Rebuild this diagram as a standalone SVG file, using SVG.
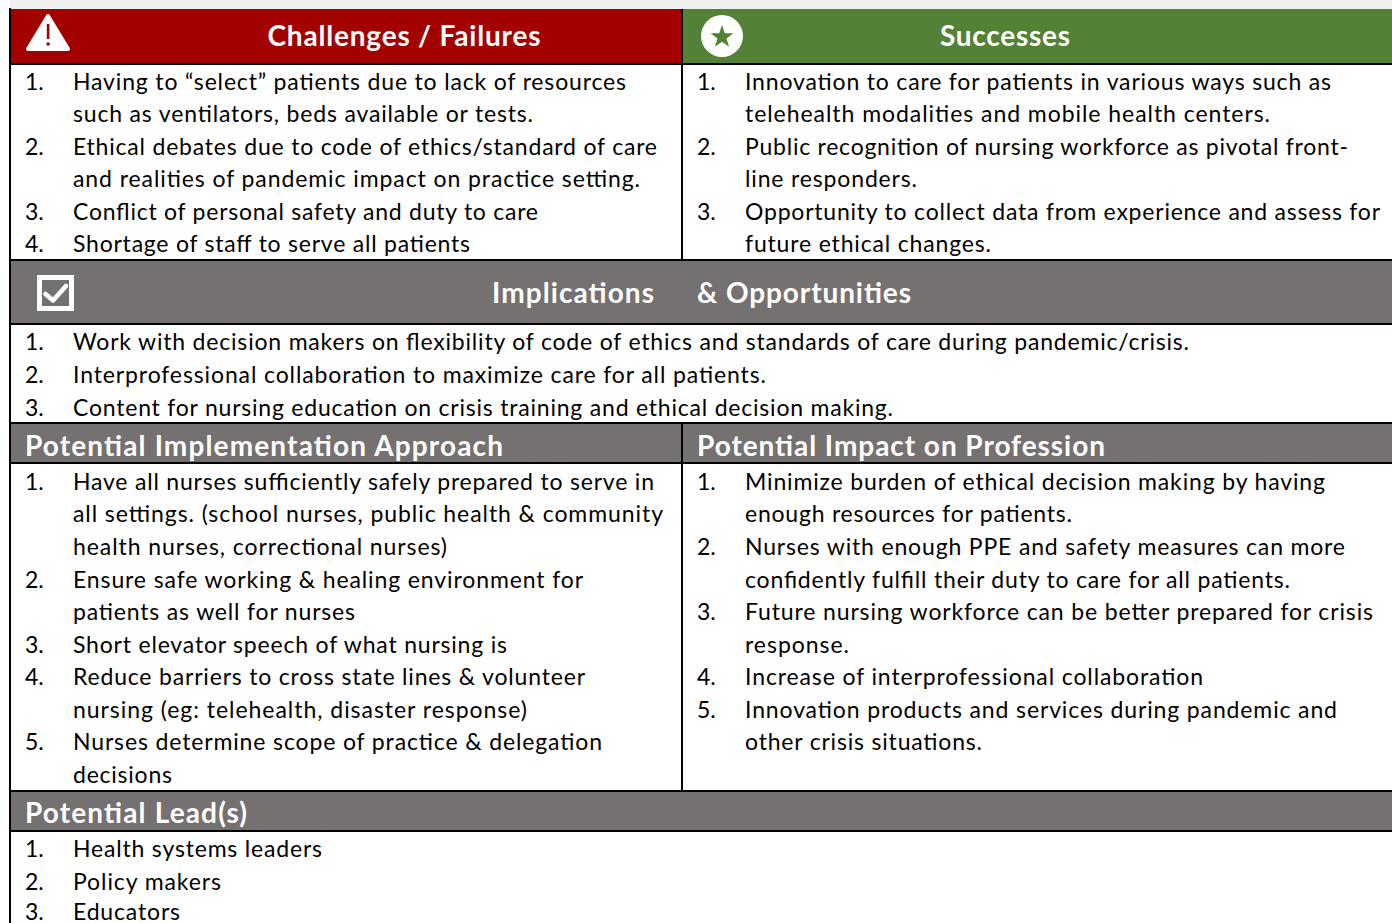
<svg xmlns="http://www.w3.org/2000/svg" width="1392" height="923" viewBox="0 0 1392 923">
<style>
.b{font-family:Lato,"Open Sans","Liberation Sans",sans-serif;font-size:23px;fill:#000}
.h{font-family:Lato,"Open Sans","Liberation Sans",sans-serif;font-size:28px;font-weight:bold;fill:#fff}
.ln{stroke:#000;stroke-width:2;fill:none}
</style>
<rect x="0" y="0" width="1392" height="923" fill="#fff"/>
<rect x="10" y="0" width="1382" height="9" fill="#f0f0f0"/>

<g id="hdr-challenges">
<rect x="10" y="9" width="672" height="55" fill="#a30000"/>
<path d="M48,16 L28,49 L68,49 Z" fill="#fff" stroke="#fff" stroke-width="4" stroke-linejoin="round"/>
<rect x="46.8" y="24" width="2.6" height="15" fill="#a30000"/>
<circle cx="48.1" cy="44" r="1.8" fill="#a30000"/>
<text class="h" x="404" y="46" text-anchor="middle" textLength="273">Challenges / Failures</text>
</g>

<g id="hdr-successes">
<rect x="682" y="9" width="710" height="55" fill="#538135"/>
<circle cx="722" cy="36" r="21" fill="#fff"/>
<polygon points="722,25 724.8,33.2 733.4,33.3 726.5,38.5 729.1,46.8 722,41.8 714.9,46.8 717.5,38.5 710.6,33.3 719.2,33.2" fill="#538135"/>
<text class="h" x="1005" y="46" text-anchor="middle" textLength="130">Successes</text>
</g>

<g id="challenges-body">
<text class="b" x="25" y="90">1.</text><text class="b" x="73" y="90" textLength="553">Having to “select” patients due to lack of resources</text>
<text class="b" x="73" y="122" textLength="460">such as ventilators, beds available or tests.</text>
<text class="b" x="25" y="155">2.</text><text class="b" x="73" y="155" textLength="584">Ethical debates due to code of ethics/standard of care</text>
<text class="b" x="73" y="187" textLength="567">and realities of pandemic impact on practice setting.</text>
<text class="b" x="25" y="220">3.</text><text class="b" x="73" y="220" textLength="465">Conflict of personal safety and duty to care</text>
<text class="b" x="25" y="252">4.</text><text class="b" x="73" y="252" textLength="397">Shortage of staff to serve all patients</text>
</g>

<g id="successes-body">
<text class="b" x="697" y="90">1.</text><text class="b" x="745" y="90" textLength="586">Innovation to care for patients in various ways such as</text>
<text class="b" x="745" y="122" textLength="525">telehealth modalities and mobile health centers.</text>
<text class="b" x="697" y="155">2.</text><text class="b" x="745" y="155" textLength="603">Public recognition of nursing workforce as pivotal front-</text>
<text class="b" x="745" y="187" textLength="172">line responders.</text>
<text class="b" x="697" y="220">3.</text><text class="b" x="745" y="220" textLength="635">Opportunity to collect data from experience and assess for</text>
<text class="b" x="745" y="252" textLength="246">future ethical changes.</text>
</g>

<g id="hdr-implications">
<rect x="10" y="260" width="1382" height="64" fill="#767171"/>
<rect x="39.5" y="277.5" width="32" height="31" fill="none" stroke="#fff" stroke-width="5"/>
<path d="M45.5,294 L53,300.5 L66,286" fill="none" stroke="#fff" stroke-width="4.5" stroke-linecap="round" stroke-linejoin="round"/>
<text class="h" x="492" y="303" textLength="162">Implications</text>
<text class="h" x="697" y="303" textLength="214">&amp; Opportunities</text>
</g>

<g id="implications-body">
<text class="b" x="25" y="350">1.</text><text class="b" x="73" y="350" textLength="1116">Work with decision makers on flexibility of code of ethics and standards of care during pandemic/crisis.</text>
<text class="b" x="25" y="383">2.</text><text class="b" x="73" y="383" textLength="693">Interprofessional collaboration to maximize care for all patients.</text>
<text class="b" x="25" y="416">3.</text><text class="b" x="73" y="416" textLength="820">Content for nursing education on crisis training and ethical decision making.</text>
</g>

<g id="hdr-approach">
<rect x="10" y="423" width="672" height="40" fill="#767171"/>
<text class="h" x="25" y="456" textLength="478">Potential Implementation Approach</text>
</g>

<g id="hdr-impact">
<rect x="682" y="423" width="710" height="40" fill="#767171"/>
<text class="h" x="697" y="456" textLength="408">Potential Impact on Profession</text>
</g>

<g id="approach-body">
<text class="b" x="25" y="490">1.</text><text class="b" x="73" y="490" textLength="581">Have all nurses sufficiently safely prepared to serve in</text>
<text class="b" x="73" y="522" textLength="590">all settings. (school nurses, public health &amp; community</text>
<text class="b" x="73" y="555" textLength="374">health nurses, correctional nurses)</text>
<text class="b" x="25" y="588">2.</text><text class="b" x="73" y="588" textLength="510">Ensure safe working &amp; healing environment for</text>
<text class="b" x="73" y="620" textLength="282">patients as well for nurses</text>
<text class="b" x="25" y="653">3.</text><text class="b" x="73" y="653" textLength="434">Short elevator speech of what nursing is</text>
<text class="b" x="25" y="685">4.</text><text class="b" x="73" y="685" textLength="512">Reduce barriers to cross state lines &amp; volunteer</text>
<text class="b" x="73" y="718" textLength="454">nursing (eg: telehealth, disaster response)</text>
<text class="b" x="25" y="750">5.</text><text class="b" x="73" y="750" textLength="529">Nurses determine scope of practice &amp; delegation</text>
<text class="b" x="73" y="783" textLength="99">decisions</text>
</g>

<g id="impact-body">
<text class="b" x="697" y="490">1.</text><text class="b" x="745" y="490" textLength="580">Minimize burden of ethical decision making by having</text>
<text class="b" x="745" y="522" textLength="327">enough resources for patients.</text>
<text class="b" x="697" y="555">2.</text><text class="b" x="745" y="555" textLength="600">Nurses with enough PPE and safety measures can more</text>
<text class="b" x="745" y="588" textLength="545">confidently fulfill their duty to care for all patients.</text>
<text class="b" x="697" y="620">3.</text><text class="b" x="745" y="620" textLength="628">Future nursing workforce can be better prepared for crisis</text>
<text class="b" x="745" y="653" textLength="104">response.</text>
<text class="b" x="697" y="685">4.</text><text class="b" x="745" y="685" textLength="458">Increase of interprofessional collaboration</text>
<text class="b" x="697" y="718">5.</text><text class="b" x="745" y="718" textLength="592">Innovation products and services during pandemic and</text>
<text class="b" x="745" y="750" textLength="237">other crisis situations.</text>
</g>

<g id="hdr-leads">
<rect x="10" y="791" width="1382" height="40" fill="#767171"/>
<text class="h" x="25" y="823" textLength="222">Potential Lead(s)</text>
</g>

<g id="leads-body">
<text class="b" x="25" y="857">1.</text><text class="b" x="73" y="857" textLength="249">Health systems leaders</text>
<text class="b" x="25" y="890">2.</text><text class="b" x="73" y="890" textLength="148">Policy makers</text>
<text class="b" x="25" y="920">3.</text><text class="b" x="73" y="920" textLength="107">Educators</text>
</g>

<g id="grid">
<line class="ln" x1="10" y1="8" x2="10" y2="923"/>
<line class="ln" x1="9" y1="64" x2="1392" y2="64"/>
<line class="ln" x1="682" y1="9" x2="682" y2="260"/>
<line class="ln" x1="9" y1="260" x2="1392" y2="260"/>
<line class="ln" x1="9" y1="324" x2="1392" y2="324"/>
<line class="ln" x1="9" y1="423" x2="1392" y2="423"/>
<line class="ln" x1="9" y1="463" x2="1392" y2="463"/>
<line class="ln" x1="682" y1="423" x2="682" y2="791"/>
<line class="ln" x1="9" y1="791" x2="1392" y2="791"/>
<line class="ln" x1="9" y1="831" x2="1392" y2="831"/>
</g>
</svg>
